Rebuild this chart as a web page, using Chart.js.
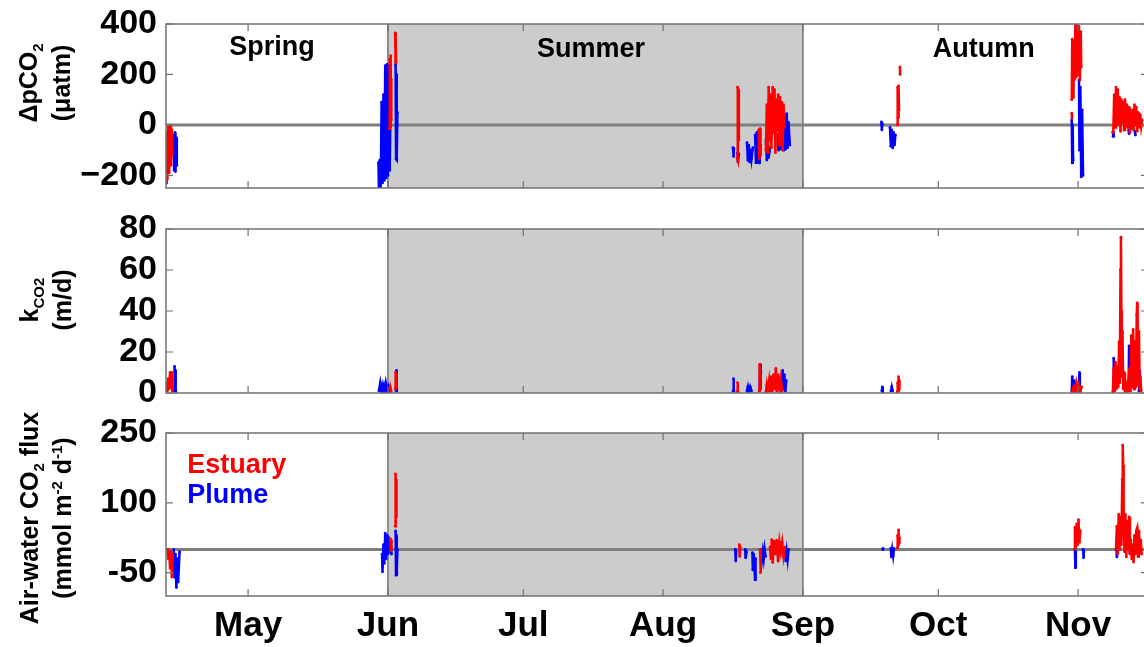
<!DOCTYPE html>
<html>
<head>
<meta charset="utf-8">
<title>Air-water CO2 exchange, estuary vs plume</title>
<script src="https://cdn.jsdelivr.net/npm/chart.js@4.4.1/dist/chart.umd.min.js"></script>
<style>
  html, body { margin: 0; padding: 0; background: #fff; }
  #figure { position: relative; width: 1144px; height: 647px; overflow: hidden; background: #fff;
            font-family: "Liberation Sans", Arial, Helvetica, sans-serif; }
  #figure canvas { position: absolute; left: 0; }
  .ytitle { position: absolute; transform: translate(-50%, -50%) rotate(-90deg); white-space: nowrap;
            text-align: center; font-weight: bold; font-size: 25px; line-height: 33px; color: #000; }
  .ytitle sub, .ytitle sup { font-size: 15px; line-height: 0; }
</style>
</head>
<body>
<div id="figure">
  <canvas id="chart-dpco2" width="1170" height="224" style="top:-6px"></canvas>
  <canvas id="chart-k" width="1170" height="224" style="top:199px"></canvas>
  <canvas id="chart-flux" width="1170" height="244" style="top:403px"></canvas>
  <div class="ytitle" style="left:45px;top:83px">ΔpCO<sub>2</sub><br>(μatm)</div>
  <div class="ytitle" style="left:46px;top:300px">k<sub>CO2</sub><br>(m/d)</div>
  <div class="ytitle" style="left:46px;top:518px">Air-water CO<sub>2</sub> flux<br>(mmol m<sup>-2</sup> d<sup>-1</sup>)</div>
</div>
<script>
// ── Time axis (day of year) ───────────────────────────────────────────────────
const X_MIN = 102.8;
const X_MAX = 320.5;
const MONTH_DAYS   = [121, 152, 182, 213, 244, 274, 305];
const MONTH_LABELS = ["May", "Jun", "Jul", "Aug", "Sep", "Oct", "Nov"];
const SUMMER_START = 152;
const SUMMER_END   = 244;

const DPCO2_TICKS = [-200, 0, 200, 400];
const K_TICKS     = [0, 20, 40, 60, 80];
const FLUX_TICKS  = [-50, 100, 250];

// ── Series: [day of year, value], null = gap between surveys ─────────────────
const dpco2Estuary = [
  [102.7,-60],[102.8,-230],[102.95,-30],[103.1,-215],[103.3,-10],[103.5,-190],[103.7,-5],[103.9,-160],[104.1,-20],[104.2,-120],
  null,
  [152.3,-15],[152.4,260],[152.5,-5],[152.6,275],[152.7,20],[152.75,180],
  null,
  [153.6,365],[153.65,250],[153.75,360],[153.8,245],
  null,
  [229.4,-130],[229.5,150],[229.6,-139],[229.7,140],[229.8,-60],
  null,
  [234.2,-20],[234.3,-135],[234.5,-15],[234.6,-120],
  null,
  [235.8,-100],[236.0,80],[236.2,-110],[236.4,150],[236.6,-60],[236.8,120],[237.0,-90],[237.3,150],[237.5,-30],[237.7,140],
  [237.9,-110],[238.1,100],[238.3,-20],[238.5,120],[238.7,-80],[238.9,110],[239.1,-40],[239.3,90],[239.5,-100],[239.7,80],[239.9,-10],
  null,
  [264.9,0],[265.0,150],[265.1,30],[265.2,155],[265.3,60],
  null,
  [265.5,230],[265.55,200],
  null,
  [303.6,47],[303.65,27],
  null,
  [303.6,100],[303.7,340],[303.9,110],[304.0,330],[304.2,180],[304.4,400],[304.6,190],[304.8,395],[305.0,200],[305.2,390],[305.4,178],[305.6,370],[305.7,230],
  null,
  [312.8,-30],[313.0,120],[313.2,-10],[313.4,150],[313.6,20],[313.8,140],[314.0,0],[314.2,110],[314.4,-25],[314.6,100],[314.8,10],
  [315.0,90],[315.2,-20],[315.4,100],[315.6,30],[315.8,80],[316.0,-10],[316.3,70],[316.5,-30],[316.7,40],[316.9,-15],[317.1,60],
  [317.3,-20],[317.5,80],[317.7,0],[317.9,70],[318.1,-25],[318.3,50],[318.5,-10],[318.8,40],[319.0,-5],[319.2,20],
];
const dpco2Plume = [
  [104.5,-40],[104.6,-180],[104.8,-30],[104.9,-185],[105.1,-50],[105.2,-160],
  null,
  [149.9,-150],[150.0,-252],[150.2,-140],[150.4,-250],[150.6,90],[150.8,-230],[151.0,120],[151.2,-220],[151.4,235],[151.6,-210],
  [151.8,240],[152.0,-200],[152.2,230],[152.4,-180],[152.6,120],
  null,
  [153.7,240],[153.8,-135],[153.9,200],[154.0,-139],[154.1,50],
  null,
  [228.5,-90],[228.6,-125],[228.7,-95],
  null,
  [229.5,-110],[229.6,-147],[229.8,-115],
  null,
  [231.6,-70],[231.8,-140],[232.0,-80],[232.2,-147],[232.4,-100],[232.6,-135],[232.9,-90],
  null,
  [233.4,-40],[233.6,-150],[233.8,-30],[234.0,-140],[234.2,-60],[234.4,-151],[234.6,-80],
  null,
  [235.8,-60],[236.0,-139],[236.2,-70],[236.4,-130],[236.7,-90],
  null,
  [238.4,-40],[238.6,-100],[238.8,-50],[239.0,-95],[239.3,-30],[239.6,40],[239.8,-100],[240.0,20],[240.2,-95],[240.4,45],
  [240.6,-90],[240.8,10],[241.1,-80],
  null,
  [261.4,12],[261.5,-20],[261.6,5],
  null,
  [263.3,-10],[263.5,-85],[263.7,-20],[263.9,-91],[264.1,-30],[264.3,-80],[264.5,-40],
  null,
  [303.6,20],[303.7,-150],[303.8,0],[303.9,-140],
  null,
  [305.2,178],[305.3,-100],[305.5,150],[305.7,-206],[305.9,60],[306.1,-200],
  null,
  [312.7,-28],[312.8,-45],[312.9,-30],
  null,
  [316.2,-20],[316.3,-35],
  null,
  [317.6,-25],[317.7,-40],
];

const kEstuary = [
  [102.8,2],[102.9,5],[103.1,1],[103.3,7],[103.5,2],[103.7,10],[103.9,3],[104.1,10],[104.2,1],
  null,
  [152.3,0.5],[152.5,3],[152.7,1],
  null,
  [153.6,2],[153.7,10],[153.8,3],[153.9,9],
  null,
  [229.4,0.5],[229.5,5],[229.6,1],
  null,
  [234.3,1],[234.4,14],[234.5,2],[234.6,12],
  null,
  [235.8,0.5],[236.0,4],[236.2,1],[236.5,6],[236.7,1],[237.0,8],[237.2,1],[237.5,9],[237.7,2],[238.0,12],[238.2,1],[238.5,9],
  [238.8,2],[239.1,7],[239.4,1],
  null,
  [264.9,0.5],[265.0,5],[265.1,1],[265.2,8],[265.3,2],[265.4,6],
  null,
  [303.7,0.5],[304.0,3],[304.3,1],[304.6,5],[304.9,1],[305.2,4],[305.5,1],[305.8,3],
  null,
  [312.7,0.5],[312.9,12],[313.1,1],[313.3,15],[313.5,2],[313.7,13],[313.9,3],[314.1,25],[314.25,5],[314.4,60],[314.5,76],
  [314.6,40],[314.7,8],[314.85,30],[315.0,2],[315.2,10],[315.4,1],[315.7,4],[316.0,1],[316.4,12],[316.6,1],[316.8,28],
  [317.0,3],[317.2,31],[317.4,2],[317.6,25],[317.8,3],[318.0,38],[318.1,44],[318.2,35],[318.35,4],[318.5,30],[318.65,2],
  [318.8,8],[319.0,1],
];
const kPlume = [
  [104.6,1],[104.7,13],[104.8,2],[104.9,11],[105.0,1],
  null,
  [150.0,1],[150.3,5],[150.6,0.5],[150.9,4],[151.2,1],[151.5,5],[151.8,1],[152.1,3],[152.3,1],
  null,
  [153.8,1],[153.9,11],[154.0,2],
  null,
  [228.5,1],[228.6,7],[228.7,1],
  null,
  [231.6,1],[231.8,3],[232.0,0.5],[232.3,3],[232.6,1],
  null,
  [234.4,1],[234.5,14],[234.6,2],[234.7,10],
  null,
  [239.3,1],[239.5,11],[239.7,2],[239.9,9],[240.1,1],[240.3,6],
  null,
  [261.5,1],[261.6,3],[261.7,0.5],
  null,
  [263.5,1],[263.7,3],[263.9,1],
  null,
  [303.6,1],[303.7,8],[303.9,2],[304.1,6],[304.3,1],
  null,
  [305.2,2],[305.3,10],[305.4,1],
  null,
  [312.8,1],[312.9,17],[313.1,2],[313.3,8],
  null,
  [316.2,1],[316.3,23],[316.4,3],
  null,
  [318.5,1],[318.6,11],[318.7,1],
];

const fluxEstuary = [
  [103.2,0],[103.3,-20],[103.5,-3],[103.7,-40],[103.9,-5],[104.1,-59],[104.3,-10],
  null,
  [152.5,23],[152.6,-3],[152.7,20],[152.8,0],
  null,
  [153.6,50],[153.65,162],[153.75,60],[153.8,150],[153.9,70],
  null,
  [229.9,10],[230.0,-15],[230.1,5],
  null,
  [234.5,0],[234.6,-50],[234.7,-5],
  null,
  [236.7,5],[236.9,-20],[237.1,21],[237.3,-28],[237.6,18],[237.9,-10],[238.2,20],[238.5,-25],[238.8,16],[239.1,-5],[239.4,15],
  [239.7,-15],[240.0,5],
  null,
  [264.9,3],[265.0,30],[265.1,10],[265.2,42],[265.3,15],[265.4,25],
  null,
  [304.2,0],[304.3,48],[304.5,5],[304.7,55],[304.9,10],[305.1,64],[305.3,15],[305.5,40],
  null,
  [313.4,0],[313.6,50],[313.8,-10],[314.0,75],[314.2,0],[314.4,70],[314.6,10],[314.8,150],[314.9,224],[315.0,180],[315.1,60],
  [315.3,-5],[315.5,75],[315.7,-16],[315.9,60],[316.1,0],[316.3,70],[316.5,-10],[316.7,20],[316.9,-20],[317.1,10],[317.3,-27],
  [317.5,30],[317.7,-10],[317.9,40],[318.1,46],[318.3,-15],[318.5,40],[318.7,-5],[318.9,20],[319.1,-10],
];
const fluxPlume = [
  [104.5,0],[104.7,-60],[104.9,-10],[105.1,-82],[105.3,-20],[105.5,-70],[105.8,-5],
  null,
  [150.7,-10],[150.8,-48],[151.0,10],[151.2,-30],[151.4,35],[151.6,-20],[151.8,30],[152.0,-10],[152.2,25],[152.4,-5],
  [152.6,15],[152.8,-10],
  null,
  [153.7,40],[153.8,-55],[153.9,30],[154.0,-50],[154.1,0],
  null,
  [229.0,0],[229.1,-25],[229.2,-5],
  null,
  [231.2,0],[231.3,-18],[231.5,-5],
  null,
  [232.8,-7],[232.9,-44],[233.1,-10],[233.4,-65],[233.5,-20],
  null,
  [234.7,0],[234.9,-22],[235.1,-5],[235.3,-20],[235.5,0],[235.7,-15],
  null,
  [240.0,0],[240.2,-25],[240.4,-5],[240.6,-22],[240.8,0],
  null,
  [261.7,0],[261.75,2],
  null,
  [263.5,3],[263.6,-16],[263.8,0],[264.0,-14],[264.2,2],
  null,
  [304.3,0],[304.4,-39],[304.5,-5],
  null,
  [306.1,0],[306.2,-18],[306.3,-5],
  null,
  [313.5,0],[313.6,-16],[313.7,-2],
  null,
  [316.4,0],[316.5,-8],[316.6,-2],
];

// ── Styling ───────────────────────────────────────────────────────────────────
const RED  = "#ff0000";
const BLUE = "#0000ff";
const FONT_FAMILY = '"Liberation Sans", Arial, Helvetica, sans-serif';
const TICK_FONT  = { family: FONT_FAMILY, size: 34, weight: "bold" };
const MONTH_FONT = { family: FONT_FAMILY, size: 35, weight: "bold" };
const AXIS_W = 166;

// rows with null gaps -> {x,y} points Chart.js understands
function toPoints(rows) {
  let lastX = X_MIN;
  return rows.map(r => {
    if (r == null) return { x: lastX, y: null };
    lastX = r[0];
    return { x: r[0], y: r[1] };
  });
}

function series(label, rows, color) {
  return {
    label, data: toPoints(rows),
    showLine: true, spanGaps: false,
    borderColor: color, backgroundColor: color,
    borderWidth: 2.5, pointRadius: 1.4, pointBorderWidth: 0,
  };
}

function zeroLine() {
  return {
    label: "zero", data: [{ x: X_MIN, y: 0 }, { x: X_MAX, y: 0 }],
    showLine: true, borderColor: "#7f7f7f", borderWidth: 3, pointRadius: 0,
  };
}

// ── Frame plugin: summer shading, box, inward ticks, in-panel text ───────────
const panelFrame = {
  id: "panelFrame",
  beforeDatasetsDraw(chart) {
    const { ctx, chartArea: a, scales: { x } } = chart;
    const x0 = x.getPixelForValue(SUMMER_START);
    const x1 = x.getPixelForValue(SUMMER_END);
    ctx.save();
    ctx.fillStyle = "#cccccc";
    ctx.fillRect(x0, a.top, x1 - x0, a.bottom - a.top);
    ctx.strokeStyle = "#555555";
    ctx.lineWidth = 1.2;
    ctx.beginPath();
    [x0, x1].forEach(px => { ctx.moveTo(px, a.top); ctx.lineTo(px, a.bottom); });
    ctx.stroke();
    ctx.restore();
  },
  afterDatasetsDraw(chart, args, opts) {
    const { ctx, chartArea: a, scales: { x, y } } = chart;
    ctx.save();
    ctx.strokeStyle = "#707070";
    ctx.lineWidth = 1.5;
    ctx.strokeRect(a.left, a.top, a.right - a.left, a.bottom - a.top);

    const len = 7;
    ctx.lineWidth = 1.2;
    ctx.beginPath();
    MONTH_DAYS.forEach(d => {
      const px = x.getPixelForValue(d);
      ctx.moveTo(px, a.bottom); ctx.lineTo(px, a.bottom - len);
      ctx.moveTo(px, a.top);    ctx.lineTo(px, a.top + len);
    });
    (opts.yTicks || []).forEach(v => {
      const py = y.getPixelForValue(v);
      ctx.moveTo(a.left, py);  ctx.lineTo(a.left + len, py);
      ctx.moveTo(a.right, py); ctx.lineTo(a.right - len, py);
    });
    ctx.stroke();

    (opts.texts || []).forEach(t => {
      ctx.font = `bold ${t.size}px ${FONT_FAMILY}`;
      ctx.fillStyle = t.color || "#000";
      ctx.textAlign = t.align || "center";
      ctx.textBaseline = "middle";
      ctx.fillText(t.text, x.getPixelForValue(t.x), y.getPixelForValue(t.y));
    });
    ctx.restore();
  },
};

function yAxis(min, max, ticks, fmt) {
  return {
    min, max,
    afterBuildTicks: s => { s.ticks = ticks.map(v => ({ value: v })); },
    afterFit: s => { s.width = AXIS_W; },
    grid: { display: false, drawTicks: false },
    border: { display: false },
    ticks: { color: "#000", font: TICK_FONT, padding: 9, autoSkip: false, callback: fmt || (v => String(v)) },
  };
}

const hiddenX = { type: "linear", min: X_MIN, max: X_MAX, display: false };

function makeChart(id, datasets, scales, pluginOpts, padding) {
  return new Chart(document.getElementById(id).getContext("2d"), {
    type: "scatter",
    data: { datasets },
    options: {
      responsive: false, animation: false, events: [],
      layout: { padding },
      scales,
      plugins: { legend: { display: false }, tooltip: { enabled: false }, panelFrame: pluginOpts },
    },
    plugins: [panelFrame],
  });
}

// ── Panels ────────────────────────────────────────────────────────────────────
makeChart("chart-dpco2",
  [series("Estuary", dpco2Estuary, RED), series("Plume", dpco2Plume, BLUE), zeroLine()],
  { x: hiddenX, y: yAxis(-250, 400, DPCO2_TICKS, v => v < 0 ? "\u2212" + Math.abs(v) : String(v)) },
  {
    yTicks: DPCO2_TICKS,
    texts: [
      { text: "Spring", x: 126.3, y: 305, size: 27 },
      { text: "Summer", x: 197.0, y: 297, size: 27 },
      { text: "Autumn", x: 284.1, y: 297, size: 27 },
    ],
  },
  { left: 0, right: 22, top: 30, bottom: 30 });

makeChart("chart-k",
  [series("Estuary", kEstuary, RED), series("Plume", kPlume, BLUE)],
  { x: hiddenX, y: yAxis(0, 80, K_TICKS) },
  { yTicks: K_TICKS },
  { left: 0, right: 22, top: 30, bottom: 30 });

makeChart("chart-flux",
  [series("Estuary", fluxEstuary, RED), series("Plume", fluxPlume, BLUE), zeroLine()],
  {
    x: {
      type: "linear", min: X_MIN, max: X_MAX,
      afterBuildTicks: s => { s.ticks = MONTH_DAYS.map(v => ({ value: v })); },
      afterFit: s => { s.height = 51; },
      grid: { display: false, drawTicks: false },
      border: { display: false },
      ticks: {
        color: "#000", font: MONTH_FONT, padding: 9, maxRotation: 0, autoSkip: false,
        callback: v => MONTH_LABELS[MONTH_DAYS.indexOf(v)],
      },
    },
    y: yAxis(-100, 250, FLUX_TICKS),
  },
  {
    yTicks: FLUX_TICKS,
    texts: [
      { text: "Estuary", x: 107.5, y: 181, size: 27, color: RED, align: "left" },
      { text: "Plume",   x: 107.5, y: 115, size: 27, color: BLUE, align: "left" },
    ],
  },
  { left: 0, right: 22, top: 30, bottom: 0 });
</script>
</body>
</html>
